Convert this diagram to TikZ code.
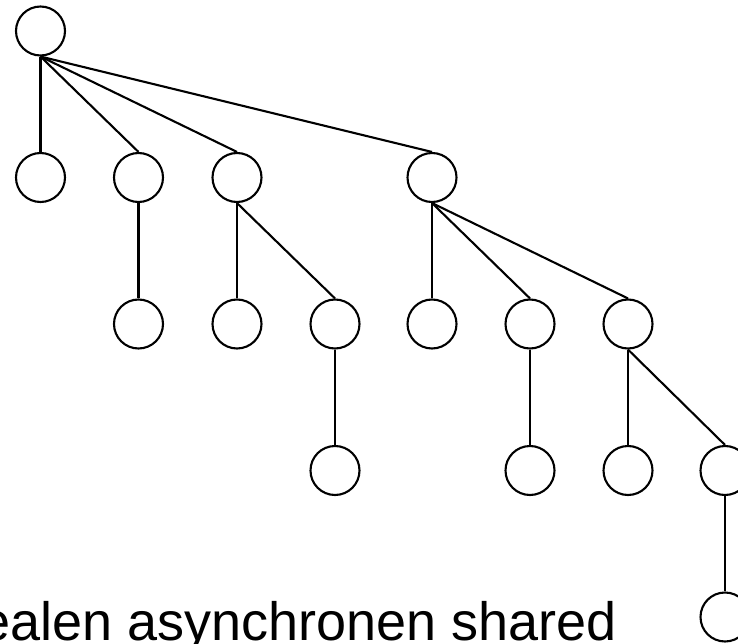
\documentclass[tikz,border=0pt]{standalone}
\usepackage{fontspec}
\setmainfont{Liberation Sans}
\begin{document}
\begin{tikzpicture}[x=1pt,y=-1pt,
  vert/.style={circle,draw,line width=2.1pt,minimum size=49pt,inner sep=0pt},
  edge/.style={line width=2.1pt}]
\useasboundingbox (0,0) rectangle (738,644);
\clip (0,0) rectangle (738,644);
\def\ya{31}\def\yb{177.5}\def\yc{324}\def\yd{470.5}\def\ye{617}
\node[vert] (r) at (40.5,\ya) {};
\node[vert] (a1) at (40.5,\yb) {};
\node[vert] (a2) at (138.5,\yb) {};
\node[vert] (a3) at (237,\yb) {};
\node[vert] (a4) at (432,\yb) {};
\node[vert] (b1) at (138.5,\yc) {};
\node[vert] (b2) at (237,\yc) {};
\node[vert] (b3) at (335,\yc) {};
\node[vert] (b4) at (432,\yc) {};
\node[vert] (b5) at (530,\yc) {};
\node[vert] (b6) at (628,\yc) {};
\node[vert] (c1) at (335,\yd) {};
\node[vert] (c2) at (530,\yd) {};
\node[vert] (c3) at (628,\yd) {};
\node[vert] (c4) at (725,\yd) {};
\node[vert] (d1) at (725,\ye) {};
\foreach \p/\c in {r/a1,r/a2,r/a3,r/a4,a2/b1,a3/b2,a3/b3,a4/b4,a4/b5,a4/b6,b3/c1,b5/c2,b6/c3,b6/c4,c4/d1}
  \draw[edge] (\p.south) -- (\c.north);
\node[anchor=base west,inner sep=0pt,font=\fontsize{54pt}{60pt}\selectfont] (t) at (-20,640) {ealen asynchronen shared};
\end{tikzpicture}
\end{document}
